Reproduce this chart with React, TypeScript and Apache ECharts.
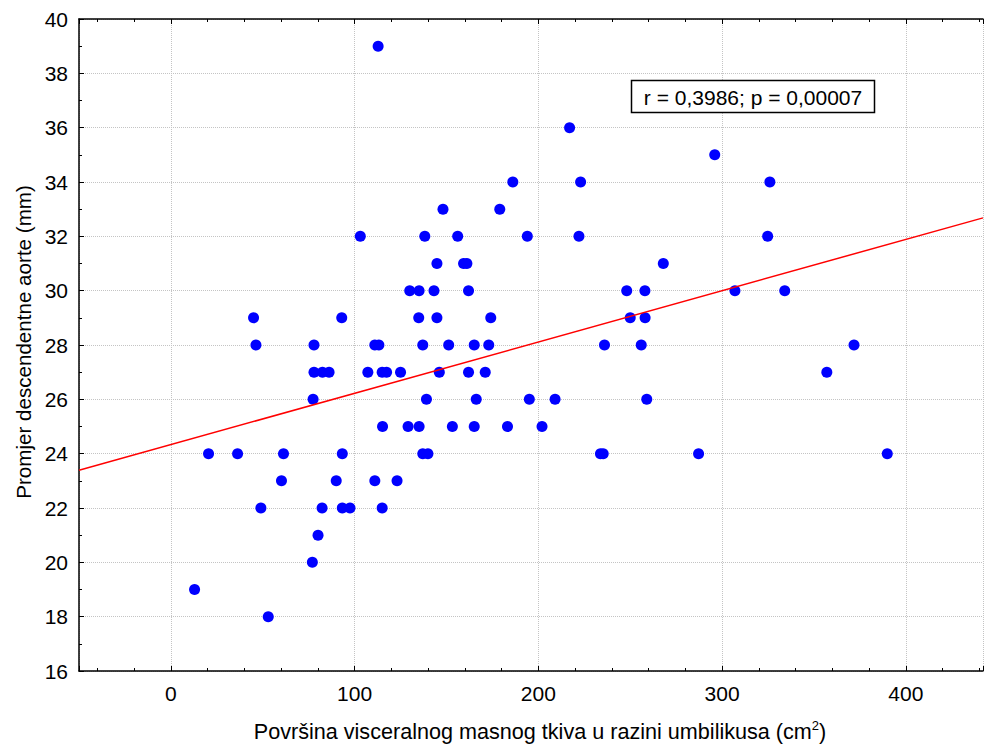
import React, { useEffect, useRef } from "react";
import * as echarts from "echarts";

// Visceral fat area (cm2) and descending aorta diameter (mm)
const areaValues: number[] = [
  112.8,
  217.0,
  296.0,
  186.1, 223.0, 326.0,
  148.1, 179.0,
  103.1, 138.2, 156.1, 194.0, 222.1, 324.8,
  144.8, 159.3, 161.1, 268.0,
  130.0, 135.1, 143.2, 162.0, 248.1, 258.0, 307.0, 334.1,
  45.0, 93.0, 134.9, 144.8, 174.1, 250.0, 258.1,
  46.3, 77.9, 111.0, 113.2, 137.1, 151.2, 165.1, 173.0, 236.0, 256.0, 371.8,
  77.9, 82.5, 86.1, 107.2, 115.0, 117.4, 125.0, 146.1, 162.0, 171.1, 357.0,
  77.4, 139.1, 166.2, 195.1, 209.1, 259.0,
  115.2, 129.1, 135.1, 153.2, 165.1, 183.2, 202.0,
  20.5, 36.3, 61.3, 93.3, 137.1, 139.9, 233.8, 235.3, 287.2, 389.9,
  60.2, 90.0, 111.0, 123.1,
  49.0, 82.3, 93.3, 97.5, 115.0,
  80.1,
  77.0,
  12.9,
  53.0,
];

const diameterValues: number[] = [
  39,
  36,
  35,
  34, 34, 34,
  33, 33,
  32, 32, 32, 32, 32, 32,
  31, 31, 31, 31,
  30, 30, 30, 30, 30, 30, 30, 30,
  29, 29, 29, 29, 29, 29, 29,
  28, 28, 28, 28, 28, 28, 28, 28, 28, 28, 28,
  27, 27, 27, 27, 27, 27, 27, 27, 27, 27, 27,
  26, 26, 26, 26, 26, 26,
  25, 25, 25, 25, 25, 25, 25,
  24, 24, 24, 24, 24, 24, 24, 24, 24, 24,
  23, 23, 23, 23,
  22, 22, 22, 22, 22,
  21,
  20,
  19,
  18,
];

// Regression line endpoints
const fitX: number[] = [-50, 442];
const fitY: number[] = [23.39, 32.68];

const xTitle = "Površina visceralnog masnog tkiva u razini umbilikusa (cm{sup|2})";
const yTitle = "Promjer descendentne aorte (mm)";
const statText = "r = 0,3986; p = 0,00007";

const FONT = "'Liberation Sans', Arial, Helvetica, sans-serif";

export default function App() {
  const ref = useRef<HTMLDivElement>(null);
  useEffect(() => {
    if (!ref.current) return;
    const chart = echarts.init(ref.current, undefined, { renderer: "svg" });
    const points = areaValues.map((x, i) => [x, diameterValues[i]]);
    const fit = fitX.map((x, i) => [x, fitY[i]]);
    const axisLine = { show: true, onZero: false, lineStyle: { color: "#000", width: 1.5 } };
    const gridLine = { show: true, lineStyle: { color: "#c4c4c4", type: "dotted", width: 1 } };
    const tick = { show: true, inside: true, length: 5, lineStyle: { color: "#000", width: 1 } };
    chart.setOption({
      animation: false,
      textStyle: { fontFamily: FONT },
      grid: { left: 79, right: 0, top: 19, bottom: 76, containLabel: false },
      xAxis: [
        {
          type: "value",
          min: -50,
          max: 442,
          splitNumber: 5,
          axisLine,
          axisTick: tick,
          minorTick: { show: true, splitNumber: 5, length: 3, lineStyle: { color: "#000", width: 1 } },
          splitLine: gridLine,
          axisLabel: {
            color: "#000",
            fontSize: 21,
            fontFamily: FONT,
            margin: 12,
            formatter: (v: number) => (Math.abs(v % 100) < 1e-9 ? String(v) : ""),
          },
        },
        {
          type: "value",
          position: "top",
          min: -50,
          max: 442,
          splitNumber: 5,
          axisLine,
          axisTick: tick,
          minorTick: { show: true, splitNumber: 5, length: 3, lineStyle: { color: "#000", width: 1 } },
          splitLine: { show: false },
          axisLabel: { show: false },
        },
      ],
      yAxis: {
        type: "value",
        min: 16,
        max: 40,
        interval: 2,
        axisLine,
        axisTick: tick,
        minorTick: { show: true, splitNumber: 2, length: 3, lineStyle: { color: "#000", width: 1 } },
        splitLine: gridLine,
        axisLabel: { color: "#000", fontSize: 21, fontFamily: FONT, margin: 11 },
      },
      series: [
        {
          type: "scatter",
          data: points,
          symbol: "circle",
          symbolSize: 11,
          itemStyle: { color: "#0000ff", opacity: 1 },
          z: 2,
        },
        {
          type: "line",
          data: fit,
          symbol: "none",
          lineStyle: { color: "#ff0000", width: 1.5 },
          z: 3,
        },
      ],
      graphic: [
        {
          type: "text",
          x: 540,
          y: 731,
          style: {
            text: xTitle,
            fontSize: 21.6,
            fontFamily: FONT,
            fill: "#000",
            align: "center",
            verticalAlign: "middle",
            rich: {
              sup: { fontSize: 13, fontFamily: FONT, fill: "#000", verticalAlign: "top", lineHeight: 24 },
            },
          },
        },
        {
          type: "text",
          x: 23,
          y: 342,
          rotation: Math.PI / 2,
          style: {
            text: yTitle,
            fontSize: 20.6,
            fontFamily: FONT,
            fill: "#000",
            align: "center",
            verticalAlign: "middle",
          },
        },
        {
          type: "rect",
          shape: { x: 631.5, y: 80.5, width: 243, height: 32 },
          style: { fill: "#fff", stroke: "#000", lineWidth: 1.5 },
          z: 10,
        },
        {
          type: "text",
          x: 753,
          y: 97,
          style: {
            text: statText,
            fontSize: 21,
            fontFamily: FONT,
            fill: "#000",
            align: "center",
            verticalAlign: "middle",
          },
          z: 11,
        },
      ],
    });
    return () => chart.dispose();
  }, []);
  return (
    <div
      ref={ref}
      style={{ position: "absolute", left: 0, top: 0, width: 986, height: 747, background: "#fff" }}
    />
  );
}
